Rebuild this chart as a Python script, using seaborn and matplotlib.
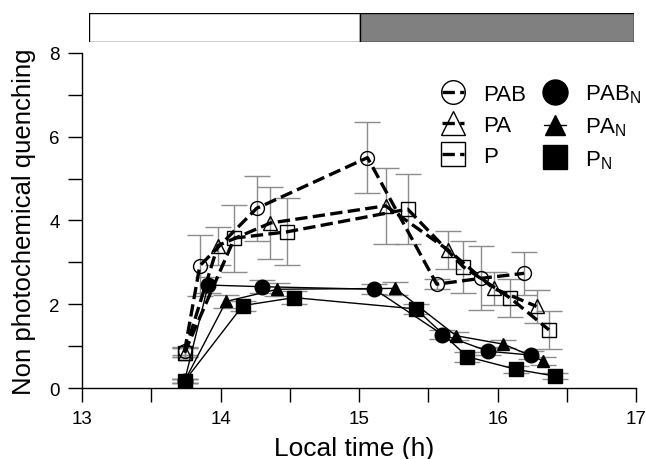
import numpy as np
import pandas as pd
import matplotlib.pyplot as plt
import seaborn as sns
from matplotlib.lines import Line2D
from matplotlib.ticker import MultipleLocator

# open symbols (dashed lines)
pab_x = [13.74, 13.85, 14.26, 15.06, 15.56, 15.88, 16.19]
pab_y = [0.88, 2.92, 4.29, 5.50, 2.48, 2.62, 2.74]
pab_e = [0.10, 0.73, 0.77, 0.85, 0.12, 0.76, 0.52]

pa_x = [13.74, 13.98, 14.36, 15.19, 15.64, 15.97, 16.28]
pa_y = [0.85, 3.40, 3.94, 4.35, 3.30, 2.38, 1.95]
pa_e = [0.10, 0.45, 0.85, 0.90, 0.45, 0.40, 0.40]

p_x = [13.74, 14.10, 14.48, 15.35, 15.75, 16.09, 16.37]
p_y = [0.85, 3.58, 3.73, 4.27, 2.90, 2.15, 1.39]
p_e = [0.10, 0.80, 0.80, 0.83, 0.62, 0.45, 0.46]

# filled symbols (solid lines)
pabn_x = [13.74, 13.91, 14.30, 15.11, 15.60, 15.93, 16.24]
pabn_y = [0.17, 2.46, 2.42, 2.36, 1.28, 0.88, 0.79]
pabn_e = [0.05, 0.20, 0.15, 0.12, 0.10, 0.10, 0.10]

pan_x = [13.74, 14.04, 14.41, 15.26, 15.70, 16.04, 16.33]
pan_y = [0.17, 2.07, 2.36, 2.38, 1.25, 1.05, 0.65]
pan_e = [0.05, 0.15, 0.15, 0.15, 0.10, 0.10, 0.10]

pn_x = [13.74, 14.16, 14.53, 15.41, 15.78, 16.13, 16.41]
pn_y = [0.17, 1.97, 2.16, 1.89, 0.75, 0.45, 0.29]
pn_e = [0.05, 0.12, 0.15, 0.12, 0.12, 0.08, 0.08]

day_start, dark_start, day_end = 13.05, 15.0, 16.98

sns.set_style('ticks', {'text.color': 'black', 'axes.labelcolor': 'black',
                        'xtick.color': 'black', 'ytick.color': 'black',
                        'axes.edgecolor': 'black'})
plt.rcParams['font.family'] = ['Liberation Sans', 'DejaVu Sans']

fig = plt.figure(figsize=(6.46, 4.60), dpi=100)
ax = fig.add_axes([0.127, 0.154, 0.858, 0.729])
bar_ax = fig.add_axes([0.138, 0.9065, 0.844, 0.063])

# name, x, y, err, marker, face, linestyle, lw, size, legend size
series = [
    ('PAB', pab_x, pab_y, pab_e, 'o', 'none', '--', 2.4, 10, 17),
    ('PA', pa_x, pa_y, pa_e, '^', 'none', '--', 2.4, 10, 17),
    ('P', p_x, p_y, p_e, 's', 'none', '--', 2.4, 9.5, 17),
    (r'PAB$_\mathregular{N}$', pabn_x, pabn_y, pabn_e, 'o', 'black', '-', 1.0, 10.5, 18),
    (r'PA$_\mathregular{N}$', pan_x, pan_y, pan_e, '^', 'black', '-', 1.0, 9, 15),
    (r'P$_\mathregular{N}$', pn_x, pn_y, pn_e, 's', 'black', '-', 1.0, 9.5, 17),
]

handles = []
for name, xs, ys, es, mk, fc, ls, lw, ms, lms in series:
    ax.errorbar(xs, ys, yerr=es, fmt='none', ecolor='#8c8c8c', elinewidth=1,
                capsize=9.5, capthick=1, zorder=1)
    df = pd.DataFrame({'x': xs, 'y': ys})
    sns.lineplot(data=df, x='x', y='y', ax=ax, sort=False, color='black',
                 linestyle=ls, linewidth=lw, marker=mk, markersize=ms,
                 markerfacecolor=fc, markeredgecolor='black', markeredgewidth=1,
                 dashes=False if ls == '-' else (3.5, 2.5), zorder=3)
    handles.append(Line2D([], [], color='black', linestyle=ls, linewidth=lw,
                          marker=mk, markersize=lms, markerfacecolor=fc,
                          markeredgecolor='black', label=name))

leg = ax.legend(handles=handles, ncol=2, loc='upper right',
                bbox_to_anchor=(1.045, 0.97), frameon=False, fontsize=16,
                handlelength=1.0, handletextpad=0.85, columnspacing=0.8,
                labelspacing=0.45)

ax.set_xlim(13, 17)
ax.set_ylim(0, 8)
ax.xaxis.set_major_locator(MultipleLocator(1))
ax.xaxis.set_minor_locator(MultipleLocator(0.5))
ax.yaxis.set_major_locator(MultipleLocator(2))
ax.yaxis.set_minor_locator(MultipleLocator(1))
ax.tick_params(which='both', direction='out', length=10, width=1,
               labelsize=13.5, pad=6)
ax.set_xlabel('Local time (h)', fontsize=19)
ax.xaxis.set_label_coords(0.49, -0.142)
ax.set_ylabel('Non photochemical quenching', fontsize=18.5)
ax.yaxis.set_label_coords(-0.083, 0.5)
sns.despine(ax=ax)
for s in ax.spines.values():
    s.set_linewidth(1)

bar_ax.barh([0], [dark_start - day_start], left=day_start, height=1,
            color='white', edgecolor='black', linewidth=1)
bar_ax.barh([0], [day_end - dark_start], left=dark_start, height=1,
            color='#808080', edgecolor='black', linewidth=1)
bar_ax.set_xlim(day_start, day_end)
bar_ax.set_ylim(-0.5, 0.5)
bar_ax.axis('off')

fig.savefig('out.png', dpi=100)
